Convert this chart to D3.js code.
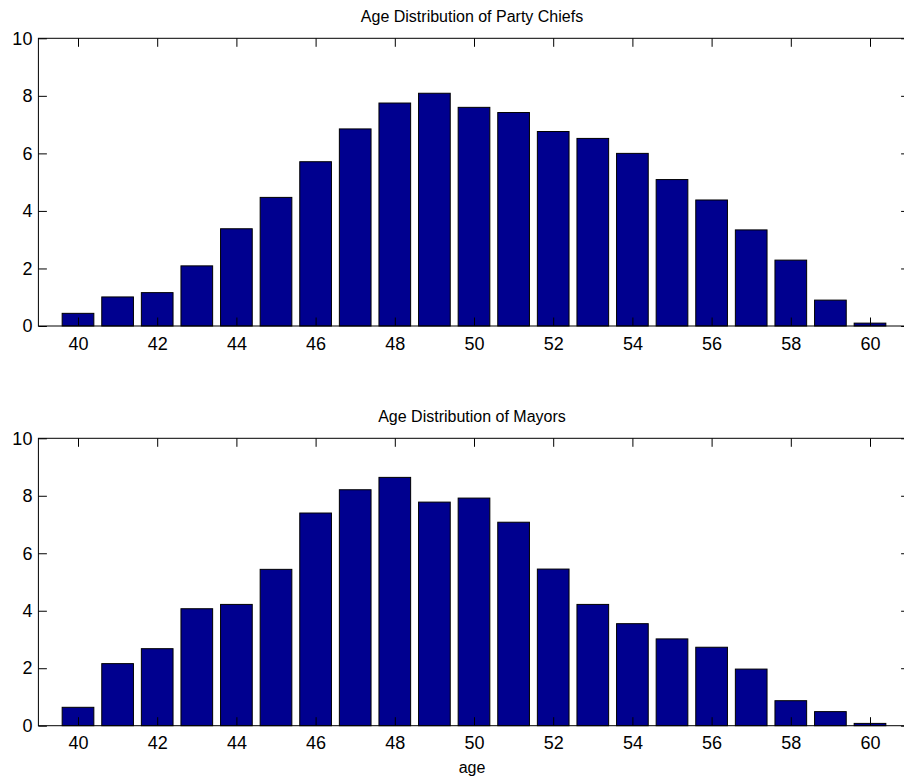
<!DOCTYPE html>
<meta charset="utf-8">
<script src="https://d3js.org/d3.v7.min.js"></script>
<style>
  body { margin: 0; background: #fff; }
  svg text { font-family: "Liberation Sans", Arial, sans-serif; fill: #000; }
</style>
<div id="chart"></div>
<script>

// ages 40..60
var ages = d3.range(40, 61);

// Party chiefs, percent per age
var chiefs = [0.44, 1.01, 1.16, 2.09, 3.38, 4.47, 5.71, 6.85, 7.75, 8.09, 7.60,
              7.42, 6.76, 6.52, 6.00, 5.09, 4.38, 3.34, 2.29, 0.90, 0.10];

// Mayors, percent per age
var mayors = [0.64, 2.16, 2.68, 4.07, 4.22, 5.44, 7.40, 8.21, 8.64, 7.78, 7.92,
              7.08, 5.45, 4.22, 3.55, 3.02, 2.73, 1.97, 0.87, 0.49, 0.08];

var xTicks = [40, 42, 44, 46, 48, 50, 52, 54, 56, 58, 60];
var yTicks = [0, 2, 4, 6, 8, 10];

var titles = ["Age Distribution of Party Chiefs", "Age Distribution of Mayors"];

var W = 904, H = 783;

var svg = d3.select("#chart")
  .append("svg")
    .attr("width", W)
    .attr("height", H);

// x scale shared by both panels (right edge of the box falls outside the picture)
var x = d3.scaleLinear()
  .domain([39, 61])
  .range([38.4, 909.6]);

var barW = (x(1) - x(0)) * 0.8;

var panels = [
  { data: chiefs, top: 38.3, bottom: 326, title: titles[0] },
  { data: mayors, top: 438.3, bottom: 725.7, title: titles[1] }
];

panels.forEach(function(p) {
  var y = d3.scaleLinear()
    .domain([0, 10])
    .range([p.bottom, p.top]);

  var g = svg.append("g");

  // bars
  g.selectAll("rect")
    .data(p.data)
    .enter()
    .append("rect")
      .attr("x", function(d, i) { return x(ages[i]) - barW / 2; })
      .attr("y", function(d) { return y(d); })
      .attr("width", barW)
      .attr("height", function(d) { return y(0) - y(d); })
      .style("fill", "#00008f")
      .style("stroke", "#000")
      .style("stroke-width", 1);

  // box
  g.append("rect")
    .attr("x", x(39))
    .attr("y", y(10))
    .attr("width", x(61) - x(39))
    .attr("height", y(0) - y(10))
    .style("fill", "none")
    .style("stroke", "#000")
    .style("stroke-width", 1);

  // bottom axis, ticks pointing in
  var xb = g.append("g")
    .attr("transform", "translate(0," + y(0) + ")")
    .call(d3.axisBottom(x).tickValues(xTicks).tickSize(-8.5).tickPadding(11).tickFormat(d3.format("d")));
  // top axis, ticks only
  var xt = g.append("g")
    .attr("transform", "translate(0," + y(10) + ")")
    .call(d3.axisTop(x).tickValues(xTicks).tickSize(-8.5).tickFormat(""));
  // left axis
  var yl = g.append("g")
    .attr("transform", "translate(" + x(39) + ",0)")
    .call(d3.axisLeft(y).tickValues(yTicks).tickSize(-8.5).tickPadding(6).tickFormat(d3.format("d")));
  // right axis, ticks only
  var yr = g.append("g")
    .attr("transform", "translate(" + x(61) + ",0)")
    .call(d3.axisRight(y).tickValues(yTicks).tickSize(-8.5).tickFormat(""));

  [xb, xt, yl, yr].forEach(function(a) {
    a.select(".domain").remove();
    a.selectAll("line").style("stroke", "#000");
    a.selectAll("text").style("font-size", "18px").style("font-family", "Liberation Sans, Arial, sans-serif");
  });

  // title
  svg.append("text")
    .attr("x", 472)
    .attr("y", p.top - 16)
    .attr("text-anchor", "middle")
    .style("font-size", "16px")
    .text(p.title);
});

// x label
svg.append("text")
  .attr("x", 472)
  .attr("y", 773)
  .attr("text-anchor", "middle")
  .style("font-size", "16px")
  .text("age");

</script>
